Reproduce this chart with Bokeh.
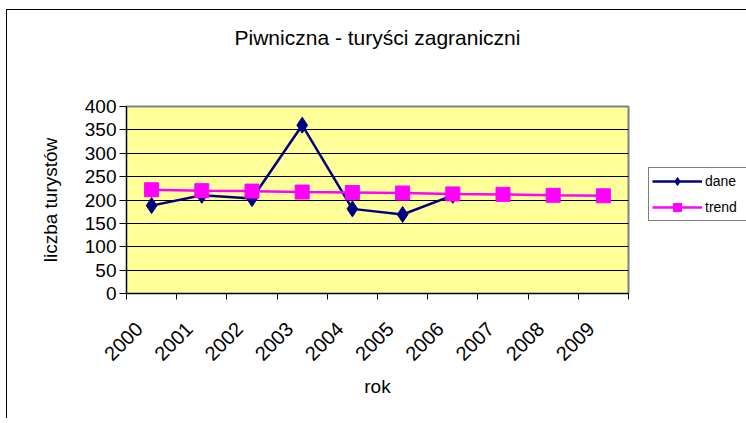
import math
from bokeh.plotting import figure
from bokeh.models import Range1d, FixedTicker, Legend, LegendItem, ColumnDataSource, Title
from bokeh.embed import file_html
from bokeh.resources import INLINE

years = ["2000", "2001", "2002", "2003", "2004", "2005", "2006", "2007", "2008", "2009"]
dane = [188, 210, 203, 360, 181, 169, 210]
trend = [222, 220, 219, 217, 216, 215, 213, 212, 210, 209]
y_ticks = [0, 50, 100, 150, 200, 250, 300, 350, 400]

FONT = "Liberation Sans"

xs = [i + 0.5 for i in range(len(years))]
# Excel-style rotated labels: their upper end sits a little left of the category centre
label_pos = [i + 0.25 for i in range(len(years))]
src_dane = ColumnDataSource(dict(x=xs[:len(dane)], y=dane))
src_trend = ColumnDataSource(dict(x=xs, y=trend))

p = figure(frame_width=502, frame_height=187, output_backend="svg", toolbar_location=None,
           x_range=Range1d(0, len(years)), y_range=Range1d(0, 400),
           min_border_left=119, min_border_right=116, min_border_top=96,
           min_border_bottom=125)
p.margin = (9, 0, 0, 6)
p.styles = {"border-left": "1px solid black", "border-top": "1px solid black"}

p.title.text = "Piwniczna - turyści zagraniczni"
p.title.text_font = FONT
p.title.text_font_size = "21px"
p.title.text_font_style = "normal"
p.title.text_color = "black"
p.title.align = "center"
p.title.standoff = 10

# spacer between the frame and the title (sits closer to the frame)
spacer = Title(text=" ", text_font_size="10px", standoff=40)
p.add_layout(spacer, "above")

p.background_fill_color = "#FFFF99"
p.border_fill_color = "white"
p.outline_line_color = "#808080"
p.outline_line_width = 2

# grid
p.xgrid.grid_line_color = None
p.ygrid.grid_line_color = "black"
p.ygrid.grid_line_width = 1

# x axis
p.xaxis.ticker = FixedTicker(ticks=label_pos, minor_ticks=list(range(len(years) + 1)))
p.xaxis.major_label_overrides = {x: y for x, y in zip(label_pos, years)}
p.xaxis.major_label_orientation = math.pi / 4
p.xaxis.major_tick_out = 0
p.xaxis.major_tick_in = 0
p.xaxis.minor_tick_out = 6
p.xaxis.minor_tick_in = 0
p.xaxis.minor_tick_line_color = "black"
p.xaxis.axis_line_color = "black"
p.xaxis.major_label_text_font = FONT
p.xaxis.major_label_text_font_size = "20px"
p.xaxis.major_label_text_color = "black"
p.xaxis.major_label_standoff = 26
p.xaxis.axis_label = "rok"
p.xaxis.axis_label_text_font = FONT
p.xaxis.axis_label_text_font_size = "19px"
p.xaxis.axis_label_text_font_style = "normal"
p.xaxis.axis_label_text_color = "black"
p.xaxis.axis_label_standoff = 6

# y axis
p.yaxis.ticker = FixedTicker(ticks=y_ticks)
p.yaxis.major_tick_out = 7
p.yaxis.major_tick_in = 0
p.yaxis.minor_tick_line_color = None
p.yaxis.axis_line_color = "black"
p.yaxis.major_label_text_font = FONT
p.yaxis.major_label_text_font_size = "19px"
p.yaxis.major_label_text_color = "black"
p.yaxis.major_label_standoff = 3
p.yaxis.axis_label = "liczba turystów"
p.yaxis.axis_label_text_font = FONT
p.yaxis.axis_label_text_font_size = "19px"
p.yaxis.axis_label_text_font_style = "normal"
p.yaxis.axis_label_text_color = "black"
p.yaxis.axis_label_standoff = 21

# series
l1 = p.line("x", "y", source=src_dane, line_color="#000080", line_width=2.5)
m1 = p.scatter("x", "y", source=src_dane, marker="diamond", size=16,
               fill_color="#000080", line_color="#000080")
l2 = p.line("x", "y", source=src_trend, line_color="#FF00FF", line_width=2.5)
m2 = p.scatter("x", "y", source=src_trend, marker="square", size=14,
               fill_color="#FF00FF", line_color="#FF00FF")

legend = Legend(items=[LegendItem(label="dane", renderers=[l1, m1]),
                       LegendItem(label="trend", renderers=[l2, m2])],
                location=(20, 72))
legend.border_line_color = "black"
legend.border_line_width = 1
legend.background_fill_color = "white"
legend.label_text_font = FONT
legend.label_text_font_size = "14px"
legend.label_text_color = "black"
legend.glyph_width = 50
legend.glyph_height = 20
legend.label_height = 20
legend.label_width = 38
legend.label_standoff = 3
legend.spacing = 6
legend.padding = 3
legend.margin = 0
p.add_layout(legend, "right")

open("out.html", "w").write(file_html(p, INLINE))
